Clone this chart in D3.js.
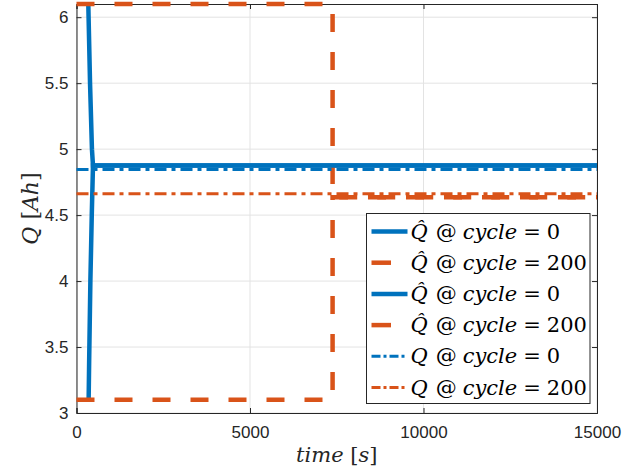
<!DOCTYPE html>
<html>
<head>
<meta charset="utf-8">
<script src="https://cdn.jsdelivr.net/npm/d3@7"></script>
<style>
  body { margin: 0; background: #fff; }
  .tick text { font-family: "Liberation Sans", Arial, sans-serif; font-size: 17px; fill: #262626; }
</style>
</head>
<body>
<div id="chart"></div>
<script>
// Estimated series, cycle 0 (starting high and low)
const tQhat0Hi = [340, 390, 445, 475, 15000];
const qQhat0Hi = [6.1, 5.5, 5.0, 4.876, 4.876];
const tQhat0Lo = [350, 365, 400, 440, 475, 15000];
const qQhat0Lo = [3.1, 3.4, 4.0, 4.5, 4.876, 4.876];

// Estimated series, cycle 200
const tQhat200Hi = [0, 7380, 7380, 15000];
const qQhat200Hi = [6.1, 6.1, 4.635, 4.635];
const tQhat200Lo = [0, 7380, 7380, 15000];
const qQhat200Lo = [3.1, 3.1, 4.635, 4.635];

// True capacities
const tTrue = [0, 15000];
const qTrue0 = [4.845, 4.845];
const qTrue200 = [4.662, 4.662];

const xTicks = [0, 5000, 10000, 15000];
const yTicks = [3, 3.5, 4, 4.5, 5, 5.5, 6];
const legendLabels = [
    { hat: true, n: "0" }, { hat: true, n: "200" },
    { hat: true, n: "0" }, { hat: true, n: "200" },
    { hat: false, n: "0" }, { hat: false, n: "200" }
];

const blue = "#0072BD", orange = "#D95319";

const W = 641, H = 472;
const margin = { top: 4, right: 44, bottom: 59, left: 76.5 },
    width = W - margin.left - margin.right,
    height = H - margin.top - margin.bottom;

const svg = d3.select("#chart")
    .append("svg")
    .attr("width", W)
    .attr("height", H);

const g = svg.append("g")
    .attr("transform", `translate(${margin.left},${margin.top})`);

const x = d3.scaleLinear().domain([0, 15000]).range([0, width]);
const y = d3.scaleLinear().domain([3, 6.1]).range([height, 0]);

// grid
g.append("g").selectAll("line").data(xTicks).enter().append("line")
    .attr("x1", d => x(d)).attr("x2", d => x(d))
    .attr("y1", 0).attr("y2", height)
    .attr("stroke", "#e3e3e3").attr("stroke-width", 1);
g.append("g").selectAll("line").data(yTicks).enter().append("line")
    .attr("y1", d => y(d)).attr("y2", d => y(d))
    .attr("x1", 0).attr("x2", width)
    .attr("stroke", "#e3e3e3").attr("stroke-width", 1);

// axes
g.append("g")
    .attr("transform", `translate(0,${height})`)
    .call(d3.axisBottom(x).tickValues(xTicks).tickSize(-5).tickPadding(13).tickFormat(d3.format("d")));
g.append("g")
    .call(d3.axisLeft(y).tickValues(yTicks).tickSize(-5).tickPadding(8).tickFormat(d => d));
g.append("g")
    .call(d3.axisTop(x).tickValues(xTicks).tickSize(-5).tickFormat(""));
g.append("g")
    .attr("transform", `translate(${width},0)`)
    .call(d3.axisRight(y).tickValues(yTicks).tickSize(-5).tickFormat(""));
g.selectAll(".domain, .tick line").attr("stroke", "#262626");

// lines
const line = d3.line().x(d => x(d[0])).y(d => y(d[1]));
const zip = (t, q) => t.map((v, i) => [v, q[i]]);

const series = [
    { d: zip(tQhat0Hi, qQhat0Hi), c: blue, w: 4.5, dash: null },
    { d: zip(tQhat200Hi, qQhat200Hi), c: orange, w: 4.5, dash: "18,20" },
    { d: zip(tQhat0Lo, qQhat0Lo), c: blue, w: 4.5, dash: null },
    { d: zip(tQhat200Lo, qQhat200Lo), c: orange, w: 4.5, dash: "18,20" },
    { d: zip(tTrue, qTrue0), c: blue, w: 3, dash: "12,5,4,5" },
    { d: zip(tTrue, qTrue200), c: orange, w: 3, dash: "12,5,4,5" }
];

series.forEach(s => {
    g.append("path")
        .datum(s.d)
        .attr("fill", "none")
        .attr("stroke", s.c)
        .attr("stroke-width", s.w)
        .attr("stroke-dasharray", s.dash)
        .attr("d", line);
});

// axis labels
const serif = "DejaVu Serif, serif";
svg.append("text")
    .attr("x", margin.left + width / 2).attr("y", 462)
    .attr("text-anchor", "middle")
    .attr("font-family", serif).attr("font-size", 21).attr("fill", "#262626")
    .html('<tspan font-style="italic">time</tspan> [<tspan font-style="italic">s</tspan>]');

svg.append("text")
    .attr("transform", `translate(38,${margin.top + height / 2}) rotate(-90)`)
    .attr("text-anchor", "middle")
    .attr("font-family", serif).attr("font-size", 22).attr("fill", "#262626")
    .html('<tspan font-style="italic">Q</tspan> [<tspan font-style="italic">Ah</tspan>]');

// legend
const lg = svg.append("g").attr("transform", "translate(366.5,213.5)");
lg.append("rect")
    .attr("width", 223.5).attr("height", 190)
    .attr("fill", "#fff").attr("stroke", "#262626").attr("stroke-width", 1);

const rows = lg.selectAll("g.row").data(series).enter().append("g")
    .attr("transform", (d, i) => `translate(0,${18 + i * 31.2})`);

rows.append("line")
    .attr("x1", 5).attr("x2", d => d.dash === "18,20" ? 24.5 : 41)
    .attr("y1", 0).attr("y2", 0)
    .attr("stroke", d => d.c)
    .attr("stroke-width", d => d.w)
    .attr("stroke-dasharray", d => d.dash === "12,5,4,5" ? "9,3,3,3" : null);

rows.each(function (d, i) {
    const lab = legendLabels[i];
    const t = d3.select(this).append("text")
        .attr("x", 44).attr("y", 7)
        .attr("font-family", serif).attr("font-size", 21).attr("fill", "#000");
    t.append("tspan").attr("font-style", "italic").text(lab.hat ? "Q\u0302" : "Q");
    t.append("tspan").attr("dx", 8).text("@");
    t.append("tspan").attr("dx", 6).attr("font-style", "italic").text("cycle");
    t.append("tspan").attr("dx", 6).text("=");
    t.append("tspan").attr("dx", 6).text(lab.n);
});
</script>
</body>
</html>
